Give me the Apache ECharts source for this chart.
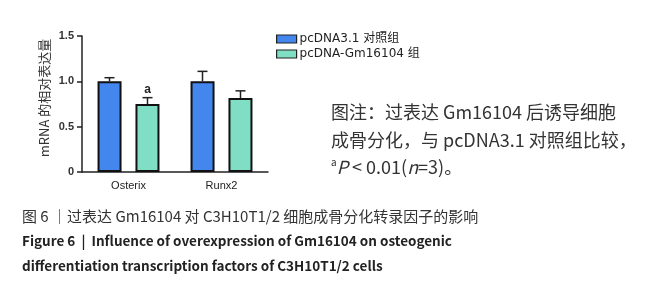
<!DOCTYPE html>
<html>
<head>
<meta charset="utf-8">
<script src="https://cdn.jsdelivr.net/npm/echarts@6/dist/echarts.min.js"></script>
<style>
    html, body { margin: 0; padding: 0; background: #fff; }
    #chart { width: 646px; height: 300px; }
</style>
</head>
<body>
<div id="chart"></div>
<script>
// 数据
var categories = ['Osterix', 'Runx2'];
var seriesNames = ['pcDNA3.1 对照组', 'pcDNA-Gm16104 组'];
var ctrlMean = [1.00, 1.00];
var ctrlSd = [0.04, 0.11];
var gmMean = [0.75, 0.815];
var gmSd = [0.07, 0.08];
var gmSig = ['a', ''];
var yTicks = [0, 0.5, 1.0, 1.5];

var chart = echarts.init(document.getElementById('chart'));

function errData(means, sds) {
    var out = [];
    for (var i = 0; i < means.length; i++) {
        out.push([i, means[i], sds[i]]);
    }
    return out;
}

// 误差线（只画上半部分）
function errRender(shift, tags) {
    return function (params, api) {
        var i = api.value(0);
        var base = api.coord([i, api.value(1)]);
        var top = api.coord([i, api.value(1) + api.value(2)]);
        var x = base[0] + shift;
        var st = { stroke: '#222', lineWidth: 1.5 };
        var kids = [
            { type: 'line', shape: { x1: x, y1: base[1], x2: x, y2: top[1] }, style: st },
            { type: 'line', shape: { x1: x - 5, y1: top[1], x2: x + 5, y2: top[1] }, style: st }
        ];
        var tag = tags ? tags[params.dataIndex] : '';
        if (tag) {
            kids.push({
                type: 'text',
                style: {
                    text: tag, x: x, y: top[1] - 2, align: 'center', verticalAlign: 'bottom',
                    font: 'bold 12px "Liberation Sans"', fill: '#222'
                }
            });
        }
        return { type: 'group', children: kids };
    };
}

var cjk = '"Noto Sans CJK SC"';

var option = {
    animation: false,
    grid: { left: 82, right: 378, top: 36, bottom: 128, containLabel: false },
    legend: {
        data: seriesNames,
        orient: 'vertical',
        left: 271,
        top: 28,
        itemWidth: 20,
        itemHeight: 8,
        itemGap: 3,
        icon: 'rect',
        itemStyle: { borderColor: '#222', borderWidth: 1.2 },
        textStyle: { fontSize: 12, color: '#222', fontFamily: '"DejaVu Sans", ' + cjk, padding: [0, 0, 0, -2] }
    },
    xAxis: {
        type: 'category',
        data: categories,
        axisLine: { lineStyle: { color: '#222', width: 1.5 } },
        axisTick: { alignWithLabel: true, length: 4, lineStyle: { color: '#222', width: 1.5 } },
        axisLabel: { color: '#222', fontSize: 11, margin: 8, fontFamily: 'Liberation Sans' }
    },
    yAxis: {
        type: 'value',
        min: 0,
        max: 1.5,
        interval: 0.5,
        name: 'mRNA 的相对表达量',
        nameLocation: 'middle',
        nameRotate: 90,
        nameGap: 31,
        nameTextStyle: { fontSize: 13, color: '#333', fontFamily: cjk, padding: [0, 0, 0, 12] },
        splitLine: { show: false },
        axisLine: { show: true, lineStyle: { color: '#222', width: 1.5 } },
        axisTick: { show: true, length: 5, lineStyle: { color: '#222', width: 1.5 } },
        axisLabel: {
            color: '#333', fontSize: 11, fontWeight: 'bold', margin: 8, fontFamily: 'Liberation Sans',
            formatter: function (v) { return v === 0 ? '0' : v.toFixed(1); }
        }
    },
    series: [
        {
            name: seriesNames[0],
            type: 'bar',
            data: ctrlMean,
            barWidth: 24,
            barGap: '58%',
            itemStyle: { color: '#4286ee', borderColor: '#111', borderWidth: 2 }
        },
        {
            name: seriesNames[1],
            type: 'bar',
            data: gmMean,
            barWidth: 24,
            itemStyle: { color: '#7fdec3', borderColor: '#111', borderWidth: 2 }
        },
        {
            type: 'custom',
            renderItem: errRender(-19),
            data: errData(ctrlMean, ctrlSd),
            encode: { x: 0, y: 1 },
            z: 5
        },
        {
            type: 'custom',
            renderItem: errRender(19, gmSig),
            data: errData(gmMean, gmSd),
            encode: { x: 0, y: 1 },
            z: 5
        }
    ],
    graphic: [
        {
            type: 'text', left: 331, top: 103,
            style: { text: '图注：过表达 Gm16104 后诱导细胞', font: '18px ' + cjk, fill: '#333' }
        },
        {
            type: 'text', left: 331, top: 131,
            style: { text: '成骨分化，与 pcDNA3.1 对照组比较，', font: '18px ' + cjk, fill: '#333' }
        },
        {
            type: 'text', left: 331, top: 157,
            style: {
                text: '{s|a}{i|P}{n| < 0.01(}{i|n}{n|=3)。}',
                rich: {
                    s: { fontSize: 10, fontFamily: cjk, fill: '#333', verticalAlign: 'top', padding: [0, 0, 10, 0] },
                    i: { fontSize: 18, fontStyle: 'italic', fontFamily: cjk, fill: '#333' },
                    n: { fontSize: 18, fontFamily: cjk, fill: '#333' }
                }
            }
        },
        {
            type: 'text', left: 22, top: 209,
            style: { text: '图 6 ｜过表达 Gm16104 对 C3H10T1/2 细胞成骨分化转录因子的影响', font: '15px ' + cjk, fill: '#333' }
        },
        {
            type: 'text', left: 22, top: 234,
            style: { text: 'Figure 6  |  Influence of overexpression of Gm16104 on osteogenic', font: 'bold 13.5px ' + cjk, fill: '#222' }
        },
        {
            type: 'text', left: 22, top: 259,
            style: { text: 'differentiation transcription factors of C3H10T1/2 cells', font: 'bold 13.5px ' + cjk, fill: '#222' }
        }
    ]
};

chart.setOption(option);
</script>
</body>
</html>
